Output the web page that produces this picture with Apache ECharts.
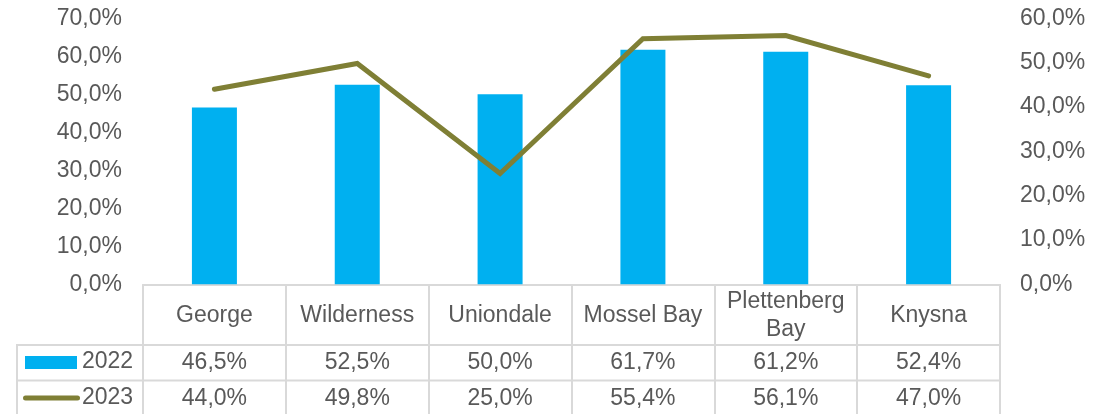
<!DOCTYPE html>
<html>
<head>
<meta charset="utf-8">
<script src="https://cdn.jsdelivr.net/npm/echarts@6/dist/echarts.min.js"></script>
<style>
  html, body { margin: 0; padding: 0; background: #fff; }
  #chart { width: 1111px; height: 414px; }
</style>
</head>
<body>
<div id="chart"></div>
<script>
// Towns shown in the table header
const towns = ['George', 'Wilderness', 'Uniondale', 'Mossel Bay', 'Plettenberg Bay', 'Knysna'];
// Yearly percentages per town
const values2022 = [46.5, 52.5, 50.0, 61.7, 61.2, 52.4];
const values2023 = [44.0, 49.8, 25.0, 55.4, 56.1, 47.0];
// Axis ranges (percent)
const leftTicks = { min: 0, max: 70, step: 10 };
const rightTicks = { min: 0, max: 60, step: 10 };

const FONT = '"Liberation Sans", Arial, sans-serif';
const FS = 23;
const TEXT = '#595959';
const RULE = '#d9d9d9';
const BLUE = '#00b0f0';
const OLIVE = '#7f7f35';

const pct = v => v.toFixed(1).replace('.', ',') + '%';

const chart = echarts.init(document.getElementById('chart'), null, { renderer: 'canvas' });

const labelBase = { color: TEXT, fontSize: FS, fontFamily: FONT, interval: 0, verticalAlign: 'middle', lineHeight: 28 };

// legend keys sit in the left column of the data table
function legendRow(name, y, key) {
  return [
    key,
    { type: 'text', x: 82, y: y, style: { text: name, fill: TEXT, font: FS + 'px ' + FONT, verticalAlign: 'middle', align: 'left' } }
  ];
}

chart.setOption({
  animation: false,
  backgroundColor: '#fff',
  grid: { left: 143, right: 111, top: 18.3, bottom: 129.7, containLabel: false },
  xAxis: [
    {
      type: 'category', data: towns, position: 'bottom',
      axisLine: { show: true, lineStyle: { color: RULE, width: 2 } },
      axisTick: { show: true, length: 130, lineStyle: { color: RULE, width: 2 } },
      axisLabel: Object.assign({}, labelBase, {
        margin: 31,
        formatter: v => v === 'Plettenberg Bay' ? 'Plettenberg\nBay' : v
      })
    },
    {
      type: 'category', data: towns, position: 'bottom', offset: 47,
      axisLine: { show: false }, axisTick: { show: false },
      axisLabel: Object.assign({}, labelBase, { margin: 31, formatter: (v, i) => pct(values2022[i]) })
    },
    {
      type: 'category', data: towns, position: 'bottom', offset: 83,
      axisLine: { show: false }, axisTick: { show: false },
      axisLabel: Object.assign({}, labelBase, { margin: 31, formatter: (v, i) => pct(values2023[i]) })
    }
  ],
  yAxis: [
    {
      type: 'value', min: leftTicks.min, max: leftTicks.max, interval: leftTicks.step,
      splitLine: { show: false }, axisLine: { show: false }, axisTick: { show: false },
      axisLabel: { color: TEXT, fontSize: FS, fontFamily: FONT, margin: 21, formatter: pct }
    },
    {
      type: 'value', min: rightTicks.min, max: rightTicks.max, interval: rightTicks.step,
      position: 'right',
      splitLine: { show: false }, axisLine: { show: false }, axisTick: { show: false },
      axisLabel: { color: TEXT, fontSize: FS, fontFamily: FONT, margin: 20, formatter: pct }
    }
  ],
  series: [
    {
      name: '2022', type: 'bar', xAxisIndex: 0, yAxisIndex: 0,
      data: values2022, barWidth: 45,
      itemStyle: { color: BLUE }
    },
    {
      name: '2023', type: 'line', xAxisIndex: 0, yAxisIndex: 1,
      data: values2023, symbol: 'none', showSymbol: false,
      lineStyle: { color: OLIVE, width: 5, cap: 'round', join: 'miter' },
      itemStyle: { color: OLIVE }
    }
  ],
  graphic: [
    // table rules extending into the legend column
    { type: 'line', shape: { x1: 17, y1: 345, x2: 1000, y2: 345 }, style: { stroke: RULE, lineWidth: 2 }, z: 0 },
    { type: 'line', shape: { x1: 17, y1: 380.5, x2: 1000, y2: 380.5 }, style: { stroke: RULE, lineWidth: 2 }, z: 0 },
    { type: 'line', shape: { x1: 17, y1: 344, x2: 17, y2: 414 }, style: { stroke: RULE, lineWidth: 2 }, z: 0 }
  ].concat(
    legendRow('2022', 362, { type: 'rect', shape: { x: 25, y: 356, width: 52, height: 13 }, style: { fill: BLUE } }),
    legendRow('2023', 398, { type: 'line', shape: { x1: 25.5, y1: 398, x2: 77.5, y2: 398 }, style: { stroke: OLIVE, lineWidth: 5, lineCap: 'round' } })
  )
});
</script>
</body>
</html>
